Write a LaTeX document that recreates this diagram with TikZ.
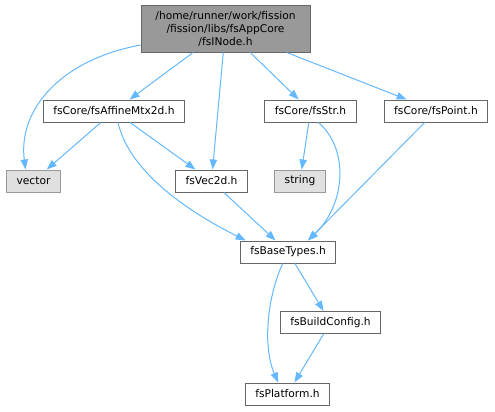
\documentclass[tikz,border=0pt]{standalone}
\usepackage{fontspec}
\setmainfont{DejaVu Sans}
\usetikzlibrary{arrows.meta}
\definecolor{edgeblue}{HTML}{63B8FF}
\definecolor{boxline}{HTML}{666666}
\definecolor{rootfill}{HTML}{999999}
\definecolor{sysline}{HTML}{999999}
\definecolor{sysfill}{HTML}{E0E0E0}
\tikzset{
  file/.style={draw=boxline, fill=white, line width=0.75pt, minimum height=16.5pt,
    inner xsep=7.5pt, inner ysep=0pt, font=\fontsize{8}{9.75}\selectfont},
  sys/.style={file, draw=sysline, fill=sysfill},
  dep/.style={draw=edgeblue, line width=0.75pt, -{Triangle[length=7.5pt,width=5.5pt]}}
}
\begin{document}
\begin{tikzpicture}[x=0.75pt,y=-0.75pt]
\useasboundingbox (0,0) rectangle (495,411);

\node[file, fill=rootfill, minimum width=126.75pt, minimum height=35.25pt, align=center] (root) at (225.5,28.5)
  {/home/runner/work/fission\\/fission/libs/fsAppCore\\/fsINode.h};
\node[file] (affine) at (114,111) {fsCore/fsAffineMtx2d.h};
\node[file] (str) at (310.5,111) {fsCore/fsStr.h};
\node[file] (point) at (436,111) {fsCore/fsPoint.h};
\node[sys] (vector) at (33.5,181) {vector};
\node[file] (vec) at (211.5,181) {fsVec2d.h};
\node[sys] (string) at (300,181) {string};
\node[file] (base) at (288,252) {fsBaseTypes.h};
\node[file] (config) at (330.5,322.5) {fsBuildConfig.h};
\node[file] (platform) at (287.5,394) {fsPlatform.h};

\foreach \a/\b in {root/affine, root/vec, root/str, root/point, affine/vector, affine/vec,
                   vec/base, str/string, base/config, config/platform}
  \draw[dep] (\a) -- (\b);

% curved ones
\draw[dep] (root.191) .. controls (60,60) and (18,110) .. ([xshift=-6pt]vector.north);
\draw[dep] ([xshift=3pt]affine.south) .. controls (130,175) and (195,215) .. ([xshift=4.5pt]base.north west);
\draw[dep] ([xshift=6pt]str.south) .. controls (350,150) and (345,205) .. ([xshift=15pt]base.north);
\draw[dep] (point) -- ([xshift=15pt]base.north);
\draw[dep] ([xshift=-4pt]base.south) .. controls (268,295) and (262,345) .. ([xshift=-7pt]platform.north);
\end{tikzpicture}
\end{document}
